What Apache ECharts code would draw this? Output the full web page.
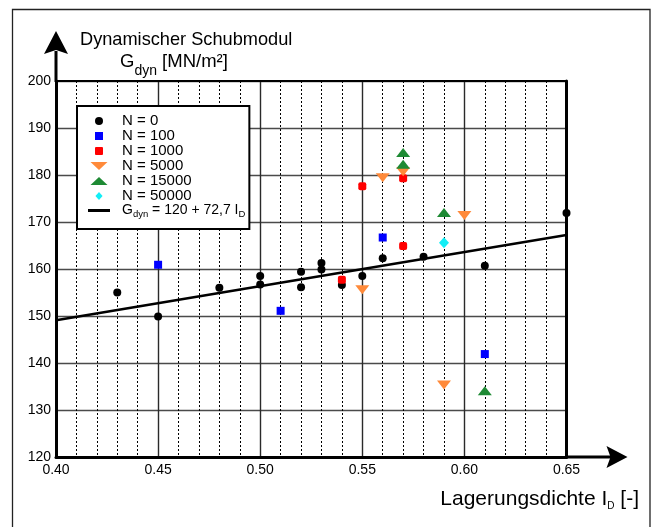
<!DOCTYPE html>
<html>
<head>
<meta charset="utf-8">
<script src="https://cdn.jsdelivr.net/npm/echarts@6/dist/echarts.min.js"></script>
<style>
  html, body { margin: 0; padding: 0; background: #fff; }
  #chart { width: 657px; height: 527px; }
</style>
</head>
<body>
<div id="chart"></div>
<script>
// Lagerungsdichte I_D and measured dynamic shear modulus G_dyn [MN/m²] per load-cycle count N
const idN0 = [0.43, 0.45, 0.48, 0.50, 0.50, 0.52, 0.52, 0.53, 0.53, 0.54, 0.55, 0.56, 0.58, 0.61, 0.65];
const gN0  = [155.0, 149.9, 156.0, 158.5, 156.7, 159.4, 156.1, 161.3, 159.9, 156.6, 158.5, 162.3, 162.6, 160.7, 171.9];
const idN100 = [0.45, 0.51, 0.56, 0.61];
const gN100  = [160.9, 151.1, 166.7, 141.9];
const idN1000 = [0.54, 0.55, 0.57, 0.57];
const gN1000  = [157.7, 177.6, 179.3, 164.9];
const idN5000 = [0.55, 0.56, 0.57, 0.59, 0.60];
const gN5000  = [155.6, 179.4, 180.7, 135.3, 171.4];
const idN15000 = [0.57, 0.57, 0.59, 0.61];
const gN15000  = [184.8, 182.3, 172.0, 134.1];
const idN50000 = [0.59];
const gN50000  = [165.6];

// Regression G_dyn = 120 + 72,7 I_D over the plotted density range
const fitIntercept = 120;
const fitSlope = 72.7;
const fitRange = [0.40, 0.65];

// Axis ranges and tick steps
const xRange = [0.40, 0.65];
const xStep = 0.05;
const yRange = [120, 200];
const yStep = 10;

const seriesNames = ['N = 0', 'N = 100', 'N = 1000', 'N = 5000', 'N = 15000', 'N = 50000'];
const fitName = 'G_dyn = 120 + 72,7 I_D';

const FONT = "'Liberation Sans', Arial, sans-serif";

const pairs = (xs, ys) => xs.map((x, i) => [x, ys[i]]);

const groups = [
  { name: seriesNames[0], data: pairs(idN0, gN0), color: '#000000', symbol: 'circle', size: 8, rotate: 0,
    icon: 'circle' },
  { name: seriesNames[1], data: pairs(idN100, gN100), color: '#0000FF', symbol: 'rect', size: 8, rotate: 0,
    icon: 'path://M0,0H8V8H0Z' },
  { name: seriesNames[2], data: pairs(idN1000, gN1000), color: '#FF0000', symbol: 'roundRect', size: 8, rotate: 0,
    icon: 'path://M1,0H7Q8,0 8,1V7Q8,8 7,8H1Q0,8 0,7V1Q0,0 1,0Z' },
  { name: seriesNames[3], data: pairs(idN5000, gN5000), color: '#FF8A3A', symbol: 'triangle', size: [14, 9], rotate: 180,
    icon: 'path://M0,0L17,0L8.5,8Z' },
  { name: seriesNames[4], data: pairs(idN15000, gN15000), color: '#1E8A34', symbol: 'triangle', size: [14, 9], rotate: 0,
    icon: 'path://M8.5,0L17,8L0,8Z' },
  { name: seriesNames[5], data: pairs(idN50000, gN50000), color: '#12EEF6', symbol: 'diamond', size: [10, 11], rotate: 0,
    icon: 'path://M4,0L8,4.5L4,9L0,4.5Z' }
];

const scatterSeries = groups.map(g => ({
  name: g.name,
  type: 'scatter',
  data: g.data,
  symbol: g.symbol,
  symbolSize: g.size,
  symbolRotate: g.rotate,
  itemStyle: { color: g.color, opacity: 1 },
  z: 5
}));

const fitSeries = {
  name: fitName,
  type: 'line',
  data: fitRange.map(x => [x, fitIntercept + fitSlope * x]),
  symbol: 'none',
  showSymbol: false,
  itemStyle: { color: '#000' },
  lineStyle: { color: '#000', width: 2.5 },
  z: 4
};

const legendData = groups.map(g => ({ name: g.name, icon: g.icon, itemStyle: { color: g.color } }))
  .concat([{ name: fitName, icon: 'path://M0,0H22V3H0Z', itemStyle: { color: '#000' } }]);

const chart = echarts.init(document.getElementById('chart'), null, { renderer: 'canvas' });

const option = {
  animation: false,
  backgroundColor: '#fff',
  grid: { left: 56, right: 90.5, top: 81, bottom: 70, containLabel: false },
  xAxis: [
    {
      type: 'value', min: xRange[0], max: xRange[1], interval: xStep,
      axisLine: { show: true, onZero: false, lineStyle: { color: '#000', width: 3 } },
      axisTick: { show: false },
      axisLabel: {
        show: true, margin: 6, color: '#000', fontFamily: FONT, fontSize: 14,
        formatter: v => v.toFixed(2)
      },
      splitLine: { show: true, lineStyle: { color: '#2a2a2a', width: 1.4 } },
      minorTick: { show: false, splitNumber: 5 },
      minorSplitLine: { show: true, lineStyle: { color: '#000', width: 1, type: [2, 2] } }
    },
    {
      type: 'value', position: 'top', min: xRange[0], max: xRange[1], interval: xStep,
      axisLine: { show: true, onZero: false, lineStyle: { color: '#000', width: 2 } },
      axisTick: { show: false }, axisLabel: { show: false }, splitLine: { show: false }
    }
  ],
  yAxis: [
    {
      type: 'value', min: yRange[0], max: yRange[1], interval: yStep,
      axisLine: { show: true, onZero: false, lineStyle: { color: '#000', width: 3 } },
      axisTick: { show: false },
      axisLabel: { show: true, margin: 5, color: '#000', fontFamily: FONT, fontSize: 14 },
      splitLine: { show: true, lineStyle: { color: '#4a4a4a', width: 1.3 } }
    },
    {
      type: 'value', position: 'right', min: yRange[0], max: yRange[1], interval: yStep,
      axisLine: { show: true, onZero: false, lineStyle: { color: '#000', width: 3 } },
      axisTick: { show: false }, axisLabel: { show: false }, splitLine: { show: false }
    }
  ],
  legend: {
    orient: 'vertical',
    left: 77, top: 106,
    padding: [7.5, 4, 10, 11],
    backgroundColor: '#fff',
    borderColor: '#000',
    borderWidth: 2,
    borderRadius: 0,
    itemWidth: 22, itemHeight: 8, itemGap: 0,
    symbolKeepAspect: true,
    data: legendData,
    formatter: name => name === fitName
      ? '{g|G}{s|dyn}{f| = 120 + 72,7 I}{s|D}'
      : '{t|' + name + '}',
    textStyle: {
      color: '#000', fontFamily: FONT, fontSize: 15,
      rich: {
        t: { fontFamily: FONT, fontSize: 15, lineHeight: 15, color: '#000', padding: [0, 0, 0, 7] },
        g: { fontFamily: FONT, fontSize: 14, lineHeight: 15, color: '#000', padding: [0, 0, 0, 7] },
        f: { fontFamily: FONT, fontSize: 14, lineHeight: 15, color: '#000' },
        s: { fontFamily: FONT, fontSize: 9.5, color: '#000', padding: [7, 0, 0, 0] }
      }
    },
    selectedMode: false,
    z: 10
  },
  series: scatterSeries.concat([fitSeries])
};

chart.setOption(option);

// Axis arrows, outer frame and axis titles
const origin = chart.convertToPixel({ gridIndex: 0 }, [xRange[0], yRange[0]]);
const topLeft = chart.convertToPixel({ gridIndex: 0 }, [xRange[0], yRange[1]]);
const bottomRight = chart.convertToPixel({ gridIndex: 0 }, [xRange[1], yRange[0]]);

const yx = origin[0], yTop = topLeft[1];
const xy = origin[1], xEnd = bottomRight[0];

chart.setOption({
  graphic: [
    { type: 'rect', silent: true, z: 0,
      shape: { x: 12.5, y: 9.5, width: 637.5, height: 600 },
      style: { fill: 'none', stroke: '#222', lineWidth: 1.3 } },
    // vertical axis extension and arrowhead
    { type: 'line', silent: true, z: 20,
      shape: { x1: yx, y1: yTop + 1, x2: yx, y2: yTop - 30 },
      style: { stroke: '#000', lineWidth: 3 } },
    { type: 'polygon', silent: true, z: 20,
      shape: { points: [[yx, yTop - 50], [yx + 12, yTop - 27], [yx, yTop - 31], [yx - 12, yTop - 27]] },
      style: { fill: '#000' } },
    // horizontal axis extension and arrowhead
    { type: 'line', silent: true, z: 20,
      shape: { x1: xEnd - 1, y1: xy, x2: xEnd + 46, y2: xy },
      style: { stroke: '#000', lineWidth: 3 } },
    { type: 'polygon', silent: true, z: 20,
      shape: { points: [[xEnd + 61, xy], [xEnd + 40, xy - 11], [xEnd + 44, xy], [xEnd + 40, xy + 11]] },
      style: { fill: '#000' } },
    // y-axis title
    { type: 'text', silent: true, z: 20, x: 80, y: 40,
      style: { text: 'Dynamischer Schubmodul', font: '18.2px ' + FONT, fill: '#000',
               align: 'left', verticalAlign: 'middle', textAlign: 'left', textVerticalAlign: 'middle' } },
    { type: 'text', silent: true, z: 20, x: 120, y: 62,
      style: {
        text: '{t|G}{s|dyn}{t| [MN/m²]}',
        fill: '#000', align: 'left', verticalAlign: 'middle', textAlign: 'left', textVerticalAlign: 'middle',
        rich: {
          t: { fontFamily: FONT, fontSize: 18.5, fill: '#000', color: '#000' },
          s: { fontFamily: FONT, fontSize: 14, fill: '#000', color: '#000', padding: [19, 0, 0, 0] }
        }
      } },
    // x-axis title
    { type: 'text', silent: true, z: 20, x: 639, y: 499,
      style: {
        text: '{t|Lagerungsdichte I}{s|D}{t| [-]}',
        fill: '#000', align: 'right', verticalAlign: 'middle', textAlign: 'right', textVerticalAlign: 'middle',
        rich: {
          t: { fontFamily: FONT, fontSize: 21, fill: '#000', color: '#000' },
          s: { fontFamily: FONT, fontSize: 10, fill: '#000', color: '#000', padding: [14, 0, 0, 0] }
        }
      } }
  ]
});
</script>
</body>
</html>
